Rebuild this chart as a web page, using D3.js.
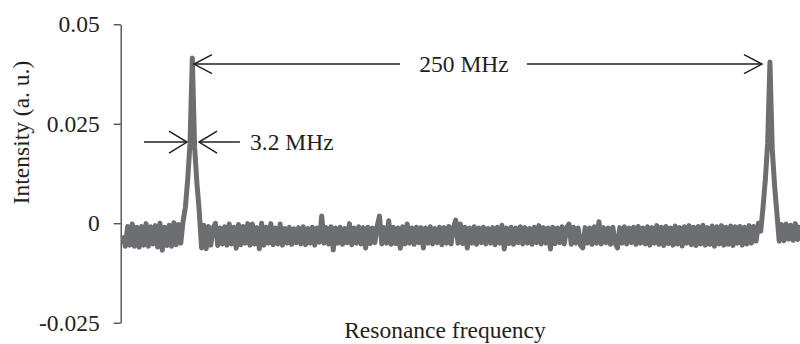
<!DOCTYPE html>
<html>
<head>
<meta charset="utf-8">
<script src="https://cdn.jsdelivr.net/npm/d3@7"></script>
<style>
  html, body { margin: 0; padding: 0; background: #fff; }
  svg { display: block; }
  text { font-family: "Liberation Serif", "LiberationSerif", Tinos, "Times New Roman", Times, "DejaVu Serif", serif; fill: #231f20; }
</style>
</head>
<body>
<svg id="chart" width="800" height="344"></svg>
<script>
// ---------- data ----------
// Sampling grid of the measured spectrum (MHz, relative to first resonance), 1 MHz step
const freqStart = -30;
const freqEnd = 263;
// Intensity, in units of 1e-4 a.u., one value per grid point
const intensityE4 = [
  -30,-58,-8,-55,-2,-58,-10,-60,-8,-55,
  -1,-58,-9,-52,-6,-60,0,-68,-10,-56,
  -5,-58,1,-54,-3,-50,5,40,110,200,
  415,190,100,30,-62,-5,-64,-8,-55,-12,
  0,-56,-12,-52,-9,-55,-2,-52,-10,-63,
  -3,-54,-8,-50,-1,-55,-2,-52,-11,-64,
  0,-55,-10,-50,-1,-54,-12,-52,-2,-55,
  -13,-50,-10,-53,-14,-49,-11,-52,-9,-54,
  -13,-50,-10,-55,-12,-48,18,-50,-11,-52,
  -9,-67,-12,-50,-10,-53,-13,-49,-1,-54,
  -12,-50,-9,-52,-11,-62,-10,-51,-12,-49,
  -8,18,-52,-11,-50,6,-53,-10,-51,-12,
  -63,-9,-52,-2,-50,-12,-53,-10,-49,-11,
  -62,-12,-50,-9,-52,-13,-49,-10,-54,-11,
  -50,-8,-52,-12,8,-50,-2,-51,-10,-62,
  -12,-50,-9,-53,-12,-49,-10,-52,-13,-50,
  -11,-54,-10,-50,-5,-65,-12,-51,-10,-53,
  -12,-49,-9,-52,-11,-50,-13,-53,-10,-49,
  -6,-52,-11,-50,-12,-65,-10,-51,-12,-49,
  -9,-52,-11,-2,-53,-10,-50,-12,-55,-62,
  -11,-50,-12,-53,-9,-50,4,-52,-11,-49,
  -12,-53,-10,-50,-62,-11,-50,-9,-52,-12,
  -49,-10,-53,-8,-50,-12,-52,-9,-55,-11,
  -50,-6,-53,-10,-56,-8,-51,-12,-55,-7,
  -52,-11,-57,-9,-50,-6,-54,-10,-56,-8,
  -52,-5,-55,-11,-53,-7,-58,-9,-52,-6,
  -55,-10,-53,-7,-56,-9,-50,-8,-55,-10,
  -52,-6,-50,-8,-45,0,-20,40,110,200,
  405,185,95,25,-45,-3,-44,-2,-40,-5,
  -43,-1,-41,-4
];
const yTickValues = [0.05, 0.025, 0, -0.025];
const yTickLabels = ["0.05", "0.025", "0", "-0.025"];
const yTitle = "Intensity (a. u.)";
const xTitle = "Resonance frequency";

// annotations (in data units)
const spacingLabel = "250 MHz";
const spacingArrow = { from: 0.73, to: 246.55, level: 0.0400, gapFrom: 89.9, gapTo: 144.8, labelAt: 117.6 };
const widthLabel = "3.2 MHz";
const widthArrow = { leftTail: -20.9, leftTip: -2.3, rightTip: 2.9, rightTail: 20.6, level: 0.0204, labelAt: 25.0 };

// ---------- build ----------
const FONT = '"Liberation Serif", "LiberationSerif", Tinos, "Times New Roman", Times, "DejaVu Serif", serif';
const freq = d3.range(freqStart, freqEnd + 1);
const series = freq.map((f, i) => ({ f, v: intensityE4[i] / 1e4 }));

const svg = d3.select("#chart");
const x = d3.scaleLinear().domain([freqStart, freqEnd]).range([123, 800]);
const y = d3.scaleLinear().domain([-0.025, 0.05]).range([322.7, 24.3]);

const FS = "23.5px";
const ink = "#231f20";

// y axis
const yAxis = d3.axisLeft(y)
  .tickValues(yTickValues)
  .tickFormat((d, i) => yTickLabels[i])
  .tickSize(7)
  .tickSizeOuter(0)
  .tickPadding(14);
const gy = svg.append("g").attr("transform", "translate(120.7,0)").call(yAxis);
gy.attr("font-family", FONT);
gy.select(".domain").attr("stroke", "#444").attr("stroke-width", 1.3);
gy.selectAll(".tick line").attr("stroke", "#444").attr("stroke-width", 1.3);
gy.selectAll(".tick text")
  .style("font-family", FONT)
  .style("font-size", FS)
  .attr("fill", ink);

// titles
svg.append("text")
  .attr("transform", "translate(28.5,132.5) rotate(-90)")
  .attr("text-anchor", "middle")
  .style("font-family", FONT)
  .style("font-size", FS)
  .text(yTitle);
svg.append("text")
  .attr("x", 445).attr("y", 337.5)
  .attr("text-anchor", "middle")
  .style("font-family", FONT)
  .style("font-size", FS)
  .text(xTitle);

// spectrum line
const line = d3.line().x(d => x(d.f)).y(d => y(d.v));
svg.append("path")
  .datum(series)
  .attr("d", line)
  .attr("fill", "none")
  .attr("stroke", "#6d6e71")
  .attr("stroke-width", 5)
  .attr("stroke-linejoin", "round");

// arrows
const ann = svg.append("g").attr("stroke", ink).attr("stroke-width", 1.5).attr("fill", "none");
function chevron(tx, ty, dir, len, half) {
  ann.append("path").attr("d", `M${tx - dir * len},${ty - half}L${tx},${ty}L${tx - dir * len},${ty + half}`);
}
function hline(x1, x2, yy) {
  ann.append("line").attr("x1", x1).attr("x2", x2).attr("y1", yy).attr("y2", yy);
}
// 250 MHz spacing arrow
const sy = y(spacingArrow.level);
hline(x(spacingArrow.from), x(spacingArrow.gapFrom), sy);
hline(x(spacingArrow.gapTo), x(spacingArrow.to), sy);
chevron(x(spacingArrow.from), sy, -1, 18, 9.5);
chevron(x(spacingArrow.to), sy, 1, 18, 9.5);
svg.append("text")
  .attr("x", x(spacingArrow.labelAt)).attr("y", sy).attr("dy", "0.32em")
  .attr("text-anchor", "middle")
  .style("font-family", FONT)
  .style("font-size", FS)
  .text(spacingLabel);

// 3.2 MHz width arrows
const wy = y(widthArrow.level);
hline(x(widthArrow.leftTail), x(widthArrow.leftTip), wy);
chevron(x(widthArrow.leftTip), wy, 1, 18, 11);
hline(x(widthArrow.rightTip), x(widthArrow.rightTail), wy);
chevron(x(widthArrow.rightTip), wy, -1, 18, 11);
svg.append("text")
  .attr("x", x(widthArrow.labelAt)).attr("y", wy).attr("dy", "0.32em")
  .attr("text-anchor", "start")
  .style("font-family", FONT)
  .style("font-size", FS)
  .text(widthLabel);
</script>
</body>
</html>
